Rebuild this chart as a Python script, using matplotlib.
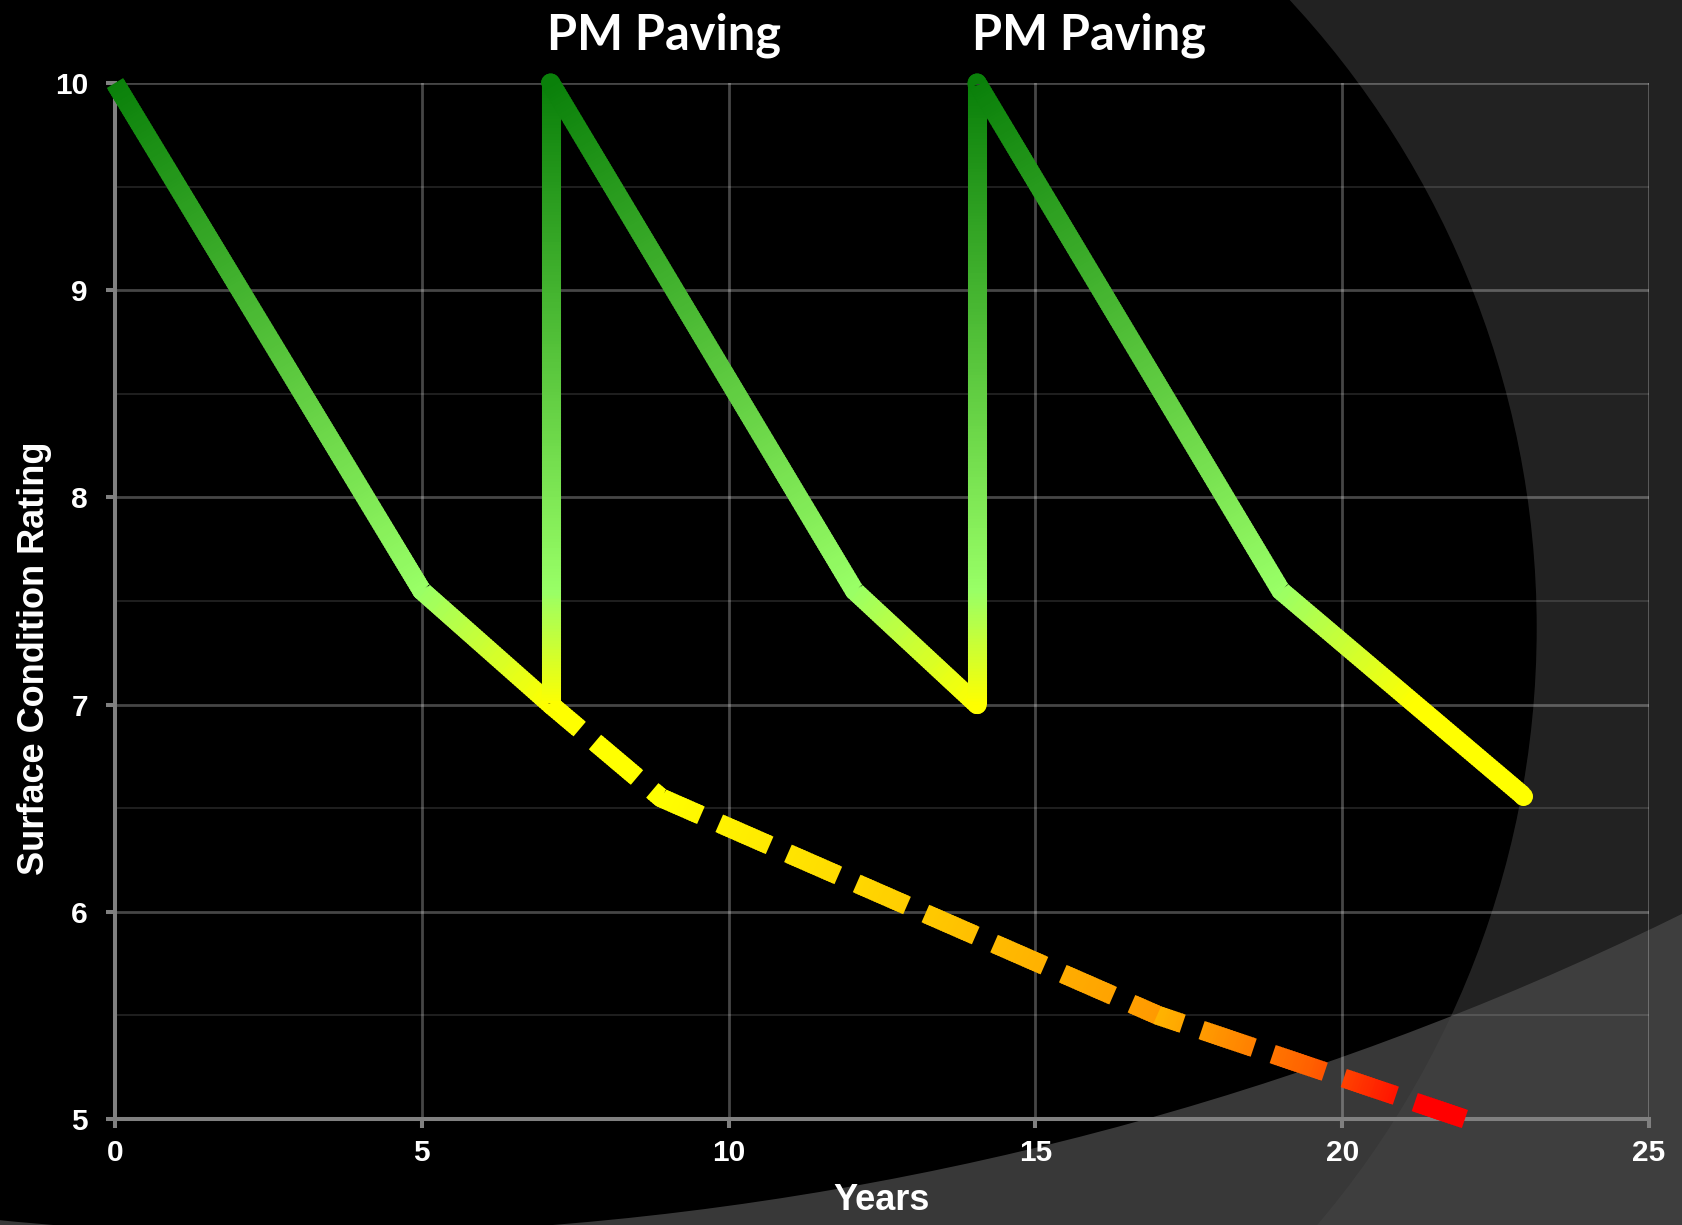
import numpy as np
import matplotlib.pyplot as plt
from matplotlib.collections import LineCollection
from matplotlib.colors import LinearSegmentedColormap
from matplotlib.patches import Circle, Wedge

# solid line: surface condition with PM paving treatments
green_x = [0, 5, 7.1, 7.1, 12.05, 14.05, 14.05, 19.0, 22.95]
green_y = [10, 7.55, 7.0, 10, 7.55, 7.0, 10, 7.55, 6.56]

# dashed line: condition without treatment
dash_x = [7.1, 8.9, 17.0, 22.0]
dash_y = [7.0, 6.55, 5.5, 5.0]

pm_labels = ['PM Paving', 'PM Paving']
pm_label_x = [8.95, 15.87]
pm_label_y = 10.16

x_ticks = [0, 5, 10, 15, 20, 25]
y_ticks = [5, 6, 7, 8, 9, 10]

W, H = 1683, 1225
plt.rcParams['font.family'] = ['Liberation Sans', 'DejaVu Sans']
plt.rcParams['font.weight'] = 'bold'

fig = plt.figure(figsize=(W / 100, H / 100), dpi=100, facecolor='#222222')

# slide background: black disc + light band at the bottom
bg = fig.add_axes([0, 0, 1, 1], zorder=-1)
bg.set_xlim(0, W)
bg.set_ylim(H, 0)
bg.axis('off')
bg.add_patch(Circle((615, 628), 921, color='black'))
bg.add_patch(Wedge((303, -1887), 6200, 0, 360, width=6200 - 3122,
                   color=(0.27, 0.27, 0.27), alpha=0.82, lw=0))

ax = fig.add_axes([115 / W, 1 - 1119 / H, 1534 / W, 1036 / H])
ax.set_facecolor('none')
ax.set_xlim(0, 25)
ax.set_ylim(5, 10)
ax.set_xticks(x_ticks)
ax.set_yticks(y_ticks)
ax.set_yticks(np.arange(5.5, 10, 1), minor=True)
ax.grid(which='major', color='white', alpha=0.28, lw=2.0)
ax.yaxis.grid(True, which='minor', color='white', alpha=0.12, lw=1.5)
for s in ['top', 'right']:
    ax.spines[s].set_visible(False)
for s in ['left', 'bottom']:
    ax.spines[s].set_color('#808080')
    ax.spines[s].set_linewidth(2.9)
ax.tick_params(which='major', direction='out', length=6.5, width=2.9,
               color='#808080', labelcolor='white', labelsize=21.5)
ax.tick_params(which='minor', length=0)
ax.tick_params(axis='x', pad=8)
ax.tick_params(axis='y', pad=13)

ax.set_xlabel('Years', fontsize=26, color='white', fontweight='bold')
ax.xaxis.set_label_coords(0.5, -0.062)
ax.set_ylabel('Surface Condition Rating', fontsize=26, color='white', fontweight='bold')
ax.yaxis.set_label_coords(-0.041, 0.445)

LW = 13.7


def gradient_line(xs, ys, color_at, dashes=None, offset=0.0, step=3.0):
    pts = ax.transData.transform(np.column_stack([xs, ys]))
    seg_len = np.hypot(*np.diff(pts, axis=0).T)
    cum = np.concatenate([[0], np.cumsum(seg_len)])
    total = cum[-1]
    if dashes is None:
        spans = [(0.0, total)]
    else:
        on, off = dashes
        spans = []
        s = -offset
        while s < total:
            a, b = max(s, 0.0), min(s + on, total)
            if b > a:
                spans.append((a, b))
            s += on + off

    def point_at(s):
        i = int(min(np.searchsorted(cum, s, side='right') - 1, len(seg_len) - 1))
        t = (s - cum[i]) / seg_len[i]
        return i, t, pts[i] + t * (pts[i + 1] - pts[i])

    inv = ax.transData.inverted()
    paths, colors = [], []
    inner = cum[1:-1]
    for a, b in spans:
        n = max(1, int(np.ceil((b - a) / step)))
        edges = np.linspace(a, b, n + 1)
        verts = inner[(inner > a) & (inner < b)]
        if len(verts):
            keep = np.array([np.min(np.abs(verts - e)) > 0.5 for e in edges])
            keep[0] = keep[-1] = True
            edges = np.unique(np.concatenate([edges[keep], verts]))
        for s0, s1 in zip(edges[:-1], edges[1:]):
            s0e, s1e = max(s0 - 1.0, a), min(s1 + 1.0, b)
            poly = [point_at(s0e)[2]]
            for v in inner:
                if s0e < v < s1e:
                    poly.append(pts[np.searchsorted(cum, v)])
            poly.append(point_at(s1e)[2])
            i, t, _ = point_at(0.5 * (s0 + s1))
            colors.append(color_at(i, t))
            paths.append(inv.transform(np.array(poly)))
    lc = LineCollection(paths, colors=colors, linewidths=LW, capstyle='butt',
                        joinstyle='round', zorder=3, clip_on=False)
    ax.add_collection(lc)


# green line coloured by rating value
y0, y1 = 6.5, 10.0
green_cmap = LinearSegmentedColormap.from_list('g', [
    (0.0, '#ffff00'), ((7.0 - y0) / (y1 - y0), '#ffff00'),
    ((7.55 - y0) / (y1 - y0), '#99ff66'), (1.0, '#0a800a')])


def green_color(i, t):
    y = green_y[i] + t * (green_y[i + 1] - green_y[i])
    return green_cmap((y - y0) / (y1 - y0))


dash_cmaps = [
    LinearSegmentedColormap.from_list('d0', ['#ffff00', '#ffff00']),
    LinearSegmentedColormap.from_list('d1', ['#ffff00', '#ff9a00']),
    LinearSegmentedColormap.from_list('d2', [(0, '#ffb400'), (0.5, '#ff6000'),
                                             (0.85, '#ff0000'), (1, '#ff0000')]),
]


def dash_color(i, t):
    return dash_cmaps[i](t)


gradient_line(dash_x, dash_y, dash_color, dashes=(55, 20), offset=17)
gradient_line(green_x, green_y, green_color)
ax.plot(green_x[-1], green_y[-1], 'o', ms=LW, mew=0,
        color=green_color(len(green_x) - 2, 1.0), zorder=4, clip_on=False)

for lx, lab in zip(pm_label_x, pm_labels):
    ax.text(lx, pm_label_y, lab, fontfamily='Lato', fontweight='bold', fontsize=35,
            color='white', ha='center', va='baseline', clip_on=False)

fig.savefig('out.png', dpi=100, facecolor=fig.get_facecolor())
